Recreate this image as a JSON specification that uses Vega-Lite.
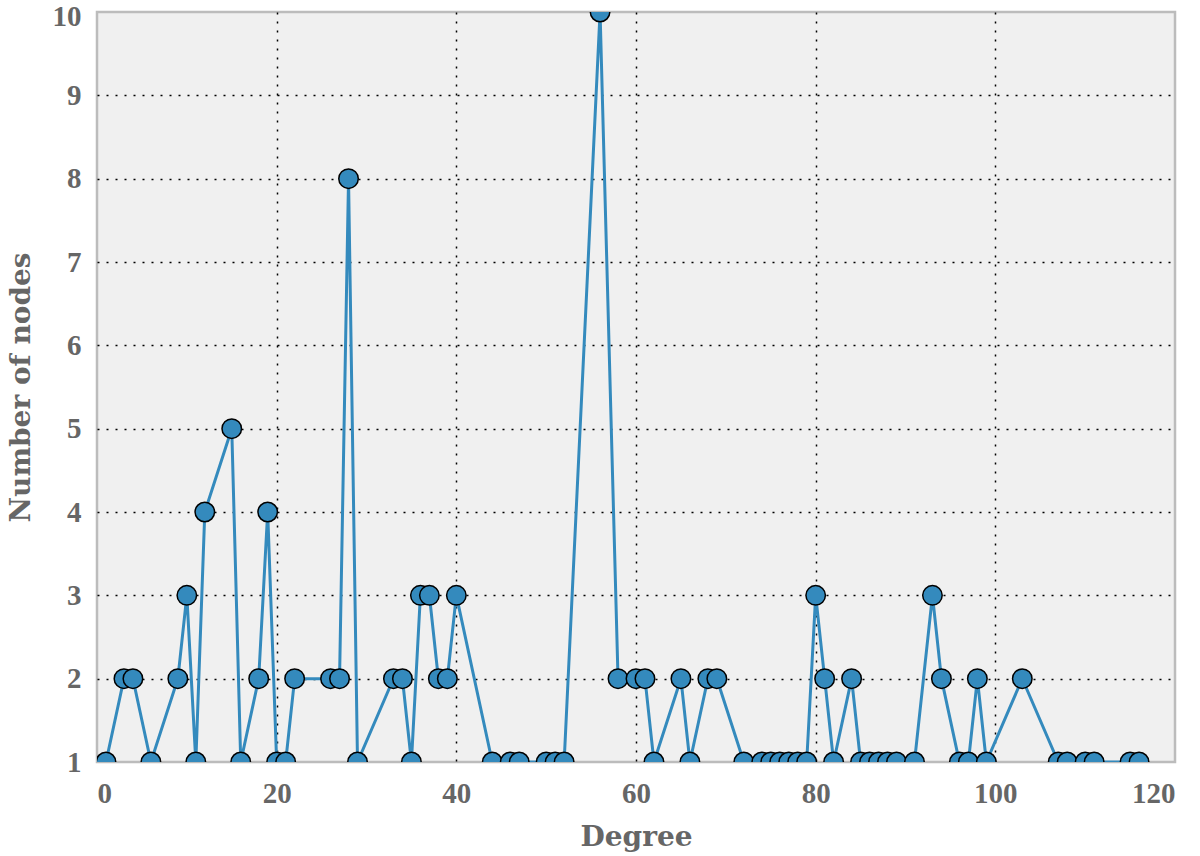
{
  "$schema": "https://vega.github.io/schema/vega-lite/v6.json",
  "autosize": {"type": "none"},
  "width": 1078,
  "height": 750,
  "padding": {"left": 97, "top": 12, "right": 25, "bottom": 94},
  "background": "white",
  "config": {
    "view": {"fill": "#f0f0f0", "stroke": "#bcbcbc", "strokeWidth": 2.5},
    "axis": {
      "labelFont": "Liberation Serif",
      "labelFontWeight": "bold",
      "labelFontSize": 29,
      "labelColor": "#666666",
      "titleFont": "DejaVu Serif",
      "titleFontWeight": "bold",
      "titleFontSize": 28,
      "titleColor": "#666666",
      "domain": false,
      "ticks": false,
      "grid": true,
      "gridColor": "#000000",
      "gridDash": [2, 7],
      "gridWidth": 1.5
    }
  },
  "data": {
    "values": [
      {"degree": 1, "nodes": 1}, {"degree": 3, "nodes": 2}, {"degree": 4, "nodes": 2},
      {"degree": 6, "nodes": 1}, {"degree": 9, "nodes": 2}, {"degree": 10, "nodes": 3},
      {"degree": 11, "nodes": 1}, {"degree": 12, "nodes": 4}, {"degree": 15, "nodes": 5},
      {"degree": 16, "nodes": 1}, {"degree": 18, "nodes": 2}, {"degree": 19, "nodes": 4},
      {"degree": 20, "nodes": 1}, {"degree": 21, "nodes": 1}, {"degree": 22, "nodes": 2},
      {"degree": 26, "nodes": 2}, {"degree": 27, "nodes": 2}, {"degree": 28, "nodes": 8},
      {"degree": 29, "nodes": 1}, {"degree": 33, "nodes": 2}, {"degree": 34, "nodes": 2},
      {"degree": 35, "nodes": 1}, {"degree": 36, "nodes": 3}, {"degree": 37, "nodes": 3},
      {"degree": 38, "nodes": 2}, {"degree": 39, "nodes": 2}, {"degree": 40, "nodes": 3},
      {"degree": 44, "nodes": 1}, {"degree": 46, "nodes": 1}, {"degree": 47, "nodes": 1},
      {"degree": 50, "nodes": 1}, {"degree": 51, "nodes": 1}, {"degree": 52, "nodes": 1},
      {"degree": 56, "nodes": 10}, {"degree": 58, "nodes": 2}, {"degree": 60, "nodes": 2},
      {"degree": 61, "nodes": 2}, {"degree": 62, "nodes": 1}, {"degree": 65, "nodes": 2},
      {"degree": 66, "nodes": 1}, {"degree": 68, "nodes": 2}, {"degree": 69, "nodes": 2},
      {"degree": 72, "nodes": 1}, {"degree": 74, "nodes": 1}, {"degree": 75, "nodes": 1},
      {"degree": 76, "nodes": 1}, {"degree": 77, "nodes": 1}, {"degree": 78, "nodes": 1},
      {"degree": 79, "nodes": 1}, {"degree": 80, "nodes": 3}, {"degree": 81, "nodes": 2},
      {"degree": 82, "nodes": 1}, {"degree": 84, "nodes": 2}, {"degree": 85, "nodes": 1},
      {"degree": 86, "nodes": 1}, {"degree": 87, "nodes": 1}, {"degree": 88, "nodes": 1},
      {"degree": 89, "nodes": 1}, {"degree": 91, "nodes": 1}, {"degree": 93, "nodes": 3},
      {"degree": 94, "nodes": 2}, {"degree": 96, "nodes": 1}, {"degree": 97, "nodes": 1},
      {"degree": 98, "nodes": 2}, {"degree": 99, "nodes": 1}, {"degree": 103, "nodes": 2},
      {"degree": 107, "nodes": 1}, {"degree": 108, "nodes": 1}, {"degree": 110, "nodes": 1},
      {"degree": 111, "nodes": 1}, {"degree": 115, "nodes": 1}, {"degree": 116, "nodes": 1}
    ]
  },
  "encoding": {
    "x": {
      "field": "degree", "type": "quantitative",
      "scale": {"domain": [0, 120], "nice": false, "zero": false},
      "axis": {
        "values": [0, 20, 40, 60, 80, 100, 120], "title": "Degree",
        "labelPadding": 17, "titlePadding": 15,
        "gridOpacity": {"condition": {"test": "datum.value == 0 || datum.value == 120", "value": 0}, "value": 1}
      }
    },
    "y": {
      "field": "nodes", "type": "quantitative",
      "scale": {"domain": [1, 10], "nice": false, "zero": false},
      "axis": {
        "values": [1, 2, 3, 4, 5, 6, 7, 8, 9, 10], "title": "Number of nodes",
        "labelPadding": 16, "titlePadding": 17, "labelBaseline": "middle",
        "labelOffset": {"condition": {"test": "datum.value == 10", "value": 4}, "value": 0},
        "gridOpacity": {"condition": {"test": "datum.value == 1 || datum.value == 10", "value": 0}, "value": 1}
      }
    }
  },
  "layer": [
    {"mark": {"type": "line", "color": "#348ABD", "strokeWidth": 3, "clip": true}},
    {"mark": {"type": "point", "filled": true, "shape": "circle", "size": 380, "fill": "#348ABD", "stroke": "#000000", "strokeWidth": 1.5, "opacity": 1, "clip": true}}
  ]
}
